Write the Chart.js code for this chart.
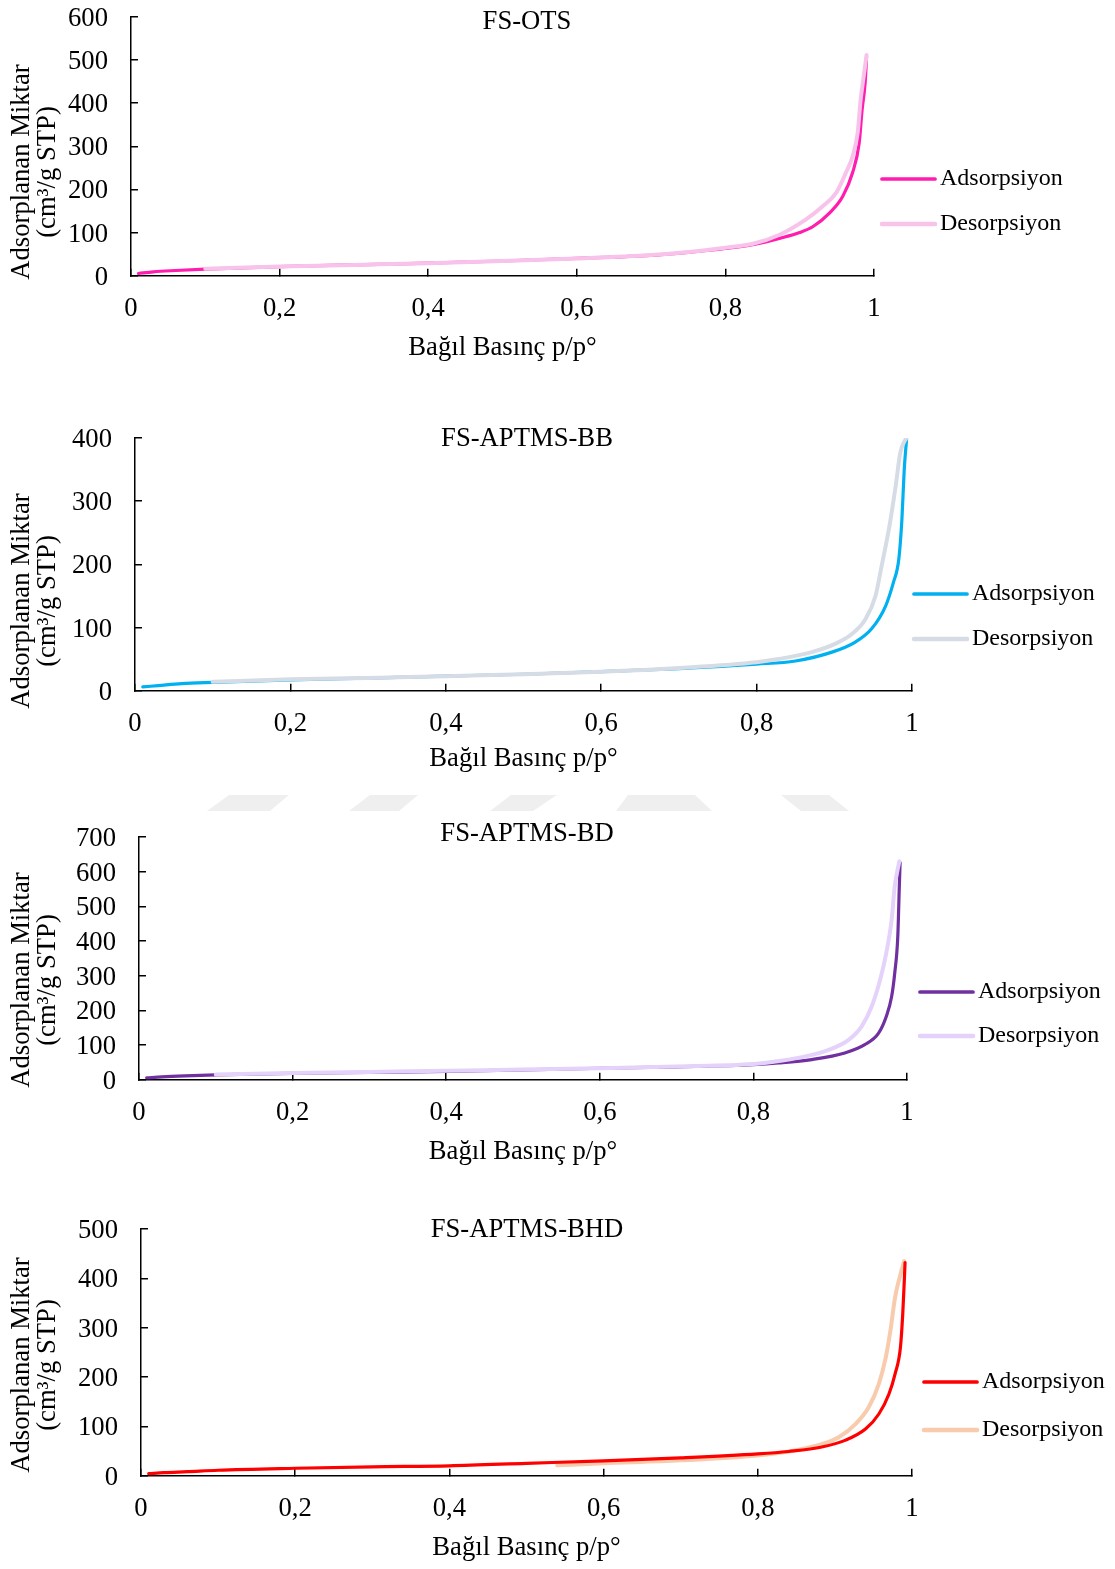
<!DOCTYPE html>
<html>
<head>
<meta charset="utf-8">
<script src="https://cdn.jsdelivr.net/npm/chart.js@4.4.1/dist/chart.umd.min.js"></script>
<style>
  body { margin: 0; background: #fff; width: 1115px; height: 1569px; position: relative; overflow: hidden; }
  canvas { position: absolute; left: 0; }
  #wm { position: absolute; left: 0; top: 0; }
</style>
</head>
<body>
<!-- faint watermark band between chart 2 and 3 -->
<svg id="wm" width="1115" height="1569">
  <g fill="#efefef">
    <polygon points="229,795 289,795 270,811 207,811"/>
    <polygon points="370,795 418,795 399,811 349,811"/>
    <polygon points="511,795 557,795 533,811 490,811"/>
    <polygon points="628,795 695,795 712,811 616,811"/>
    <polygon points="781,795 829,795 849,811 801,811"/>
  </g>
</svg>
<canvas id="c1"></canvas>
<canvas id="c2"></canvas>
<canvas id="c3"></canvas>
<canvas id="c4"></canvas>
<script>
//x ticks shared by all four charts
const xTickLabels = ['0', '0,2', '0,4', '0,6', '0,8', '1'];
const seriesNames = ['Adsorpsiyon', 'Desorpsiyon'];

//FS-OTS
const otsAdsP = [0.01, 0.03, 0.06, 0.1, 0.2, 0.3, 0.4, 0.5, 0.6, 0.7, 0.75, 0.8, 0.84, 0.874, 0.9, 0.918, 0.94, 0.958, 0.971, 0.98, 0.984, 0.988, 0.99];
const otsAdsV = [5, 9, 12, 15, 21, 25, 29, 34, 40, 47, 54, 63, 73, 87, 100, 114, 145, 184, 238, 307, 385, 446, 508];
const otsDesP = [0.1, 0.2, 0.3, 0.4, 0.5, 0.6, 0.7, 0.75, 0.8, 0.837, 0.873, 0.908, 0.931, 0.949, 0.962, 0.971, 0.978, 0.982, 0.986, 0.99];
const otsDesV = [16, 21, 25, 29, 34, 40, 48, 55, 65, 74, 95, 130, 161, 192, 238, 276, 331, 408, 460, 512];

//FS-APTMS-BB
const bbAdsP = [0.01, 0.03, 0.06, 0.1, 0.2, 0.3, 0.4, 0.5, 0.6, 0.7, 0.8, 0.85, 0.897, 0.927, 0.948, 0.966, 0.976, 0.983, 0.987, 0.99, 0.993];
const bbAdsV = [6, 8, 11, 13, 17, 20, 23, 26, 30, 35, 42, 47, 61, 77, 98, 134, 171, 208, 271, 350, 398];
const bbDesP = [0.1, 0.2, 0.3, 0.4, 0.5, 0.6, 0.7, 0.8, 0.828, 0.871, 0.901, 0.923, 0.94, 0.953, 0.961, 0.971, 0.979, 0.985, 0.993];
const bbDesV = [14, 18, 20, 23, 26, 30, 36, 45, 50, 61, 74, 90, 113, 150, 198, 261, 324, 377, 401];

//FS-APTMS-BD
const bdAdsP = [0.01, 0.03, 0.06, 0.1, 0.2, 0.3, 0.4, 0.5, 0.6, 0.7, 0.8, 0.833, 0.876, 0.919, 0.945, 0.963, 0.973, 0.98, 0.984, 0.988, 0.99, 0.991];
const bdAdsV = [5, 8, 11, 14, 18, 21, 24, 28, 33, 37, 43, 48, 58, 77, 101, 134, 182, 240, 307, 413, 557, 626];
const bdDesP = [0.1, 0.2, 0.3, 0.4, 0.5, 0.6, 0.7, 0.8, 0.824, 0.863, 0.898, 0.924, 0.941, 0.954, 0.965, 0.973, 0.98, 0.984, 0.99];
const bdDesV = [15, 19, 22, 26, 29, 33, 38, 45, 51, 65, 86, 115, 154, 211, 288, 365, 461, 557, 630];

//FS-APTMS-BHD
const bhdAdsP = [0.01, 0.03, 0.06, 0.1, 0.2, 0.3, 0.4, 0.5, 0.6, 0.7, 0.8, 0.84, 0.883, 0.914, 0.94, 0.957, 0.97, 0.978, 0.985, 0.988, 0.99, 0.991];
const bhdAdsV = [4, 6, 8, 11, 15, 18, 20, 25, 30, 36, 44, 49, 58, 72, 95, 125, 165, 206, 260, 328, 395, 432];
const bhdDesP = [0.54, 0.6, 0.7, 0.8, 0.84, 0.883, 0.905, 0.927, 0.944, 0.957, 0.966, 0.972, 0.978, 0.985, 0.99];
const bhdDesV = [21, 25, 31, 41, 49, 64, 78, 105, 139, 186, 240, 294, 361, 408, 435];

const family = "'Liberation Serif', 'Times New Roman', serif";
const bigFont = 26.67;
const legendFont = 24;
const topPad = 16;

//pair up the x and y lists into points
function points(p, v) {
  return p.map((x, i) => ({ x: x, y: v[i] }));
}

//title, y title and legend drawn on the canvas around the plot
const annotate = {
  id: 'annotate',
  afterDraw(chart, args, o) {
    const ctx = chart.ctx;
    const top = chart.chartArea.top;
    ctx.save();
    ctx.fillStyle = '#000';
    ctx.textBaseline = 'middle';
    ctx.font = bigFont + 'px ' + family;
    ctx.textAlign = 'center';
    ctx.fillText(o.title, 527, top + o.titleDy + 2);

    //two line y title, rotated
    ctx.save();
    ctx.translate(22, top + o.yTitleDy);
    ctx.rotate(-Math.PI / 2);
    ctx.fillText('Adsorplanan Miktar', 0, 0);
    ctx.restore();
    ctx.save();
    ctx.translate(48, top + o.yTitleDy);
    ctx.rotate(-Math.PI / 2);
    ctx.fillText('(cm³/g STP)', 0, 0);
    ctx.restore();

    //legend
    ctx.font = legendFont + 'px ' + family;
    ctx.textAlign = 'left';
    ctx.lineCap = 'round';
    o.legendOrder.forEach((di, k) => {
      const ds = chart.data.datasets[di];
      const y = top + o.legendDy[k] + 2;
      ctx.strokeStyle = ds.borderColor;
      ctx.lineWidth = ds.borderWidth + 0.5;
      ctx.beginPath();
      ctx.moveTo(o.legendX, y);
      ctx.lineTo(o.legendX + 53, y);
      ctx.stroke();
      ctx.fillText(ds.label, o.legendX + 58, y);
    });
    ctx.restore();
  }
};

function buildConfig(c, H) {
  const W = 100;
  const axisFont = { family: family, size: bigFont, lineHeight: 1.2 };
  return {
    type: 'line',
    data: {
      datasets: [
        {
          label: seriesNames[0], data: points(c.adsP, c.adsV),
          borderColor: c.colors[0], borderWidth: 3.2, order: c.adsOnTop ? 0 : 1
        },
        {
          label: seriesNames[1], data: points(c.desP, c.desV),
          borderColor: c.colors[1], borderWidth: 4, order: c.adsOnTop ? 1 : 0
        }
      ]
    },
    options: {
      responsive: false,
      maintainAspectRatio: false,
      animation: false,
      layout: { padding: { left: c.L - W, right: 1115 - c.R, top: topPad, bottom: 0 } },
      elements: {
        point: { radius: 0 },
        line: { cubicInterpolationMode: 'monotone', borderCapStyle: 'round', borderJoinStyle: 'round' }
      },
      plugins: {
        legend: { display: false },
        tooltip: { enabled: false },
        annotate: c.annot
      },
      scales: {
        x: {
          type: 'linear', min: 0, max: 1,
          ticks: { stepSize: 0.2, padding: 24, color: '#000', font: axisFont, maxRotation: 0, autoSkip: false,
            callback: (v, i) => xTickLabels[i] },
          grid: { drawOnChartArea: false, tickLength: -7, color: '#000', lineWidth: 1.5 },
          border: { color: '#000', width: 1.5 },
          title: { display: true, text: 'Bağıl Basınç p/p°', color: '#000', padding: 0,
            font: { family: family, size: bigFont, lineHeight: 1 } },
          afterFit: s => { s.height = H; }
        },
        y: {
          min: 0, max: c.yMax,
          ticks: { stepSize: 100, padding: 30, labelOffset: 2, color: '#000', font: axisFont, autoSkip: false },
          grid: { drawOnChartArea: false, tickLength: -7, color: '#000', lineWidth: 1.5 },
          border: { color: '#000', width: 1.5 },
          afterFit: s => { s.width = W; }
        }
      }
    },
    plugins: [annotate]
  };
}

function makeChart(id, c) {
  const canvas = document.getElementById(id);
  const H = c.xTitleY + 2 - c.B + bigFont / 2;
  canvas.width = 1115;
  canvas.height = Math.round(topPad + (c.B - c.T) + H);
  let chart = new Chart(canvas.getContext('2d'), buildConfig(c, H));
  //the layout adds its own room above the plot, so measure and build again at the right height
  const a = chart.chartArea;
  const extra = (c.B - c.T) - (a.bottom - a.top);
  const newHeight = canvas.height + Math.round(extra);
  chart.destroy();
  canvas.width = 1115;
  canvas.height = newHeight;
  chart = new Chart(canvas.getContext('2d'), buildConfig(c, H));
  canvas.style.top = (c.T - chart.chartArea.top) + 'px';
  return chart;
}

makeChart('c1', {
  L: 131, R: 874, T: 17, B: 276, xTitleY: 346, yMax: 600,
  adsP: otsAdsP, adsV: otsAdsV, desP: otsDesP, desV: otsDesV,
  colors: ['#FF1CAE', '#F8C3EA'], adsOnTop: false,
  annot: { title: 'FS-OTS', titleDy: 3, yTitleDy: 155, legendX: 882, legendDy: [160, 205], legendOrder: [0, 1] }
});

makeChart('c2', {
  L: 135, R: 912, T: 438, B: 691, xTitleY: 757, yMax: 400,
  adsP: bbAdsP, adsV: bbAdsV, desP: bbDesP, desV: bbDesV,
  colors: ['#00B0F0', '#D6DCE5'], adsOnTop: false,
  annot: { title: 'FS-APTMS-BB', titleDy: -1, yTitleDy: 163, legendX: 914, legendDy: [154, 199], legendOrder: [0, 1] }
});

makeChart('c3', {
  L: 139, R: 907, T: 837, B: 1080, xTitleY: 1150, yMax: 700,
  adsP: bdAdsP, adsV: bdAdsV, desP: bdDesP, desV: bdDesV,
  colors: ['#7030A0', '#E4D2FA'], adsOnTop: false,
  annot: { title: 'FS-APTMS-BD', titleDy: -5, yTitleDy: 143, legendX: 920, legendDy: [153, 197], legendOrder: [0, 1] }
});

makeChart('c4', {
  L: 141, R: 912, T: 1229, B: 1476, xTitleY: 1546, yMax: 500,
  adsP: bhdAdsP, adsV: bhdAdsV, desP: bhdDesP, desV: bhdDesV,
  colors: ['#FF0000', '#F8CBAD'], adsOnTop: true,
  annot: { title: 'FS-APTMS-BHD', titleDy: -1, yTitleDy: 136, legendX: 924, legendDy: [151, 199], legendOrder: [0, 1] }
});
</script>
</body>
</html>
